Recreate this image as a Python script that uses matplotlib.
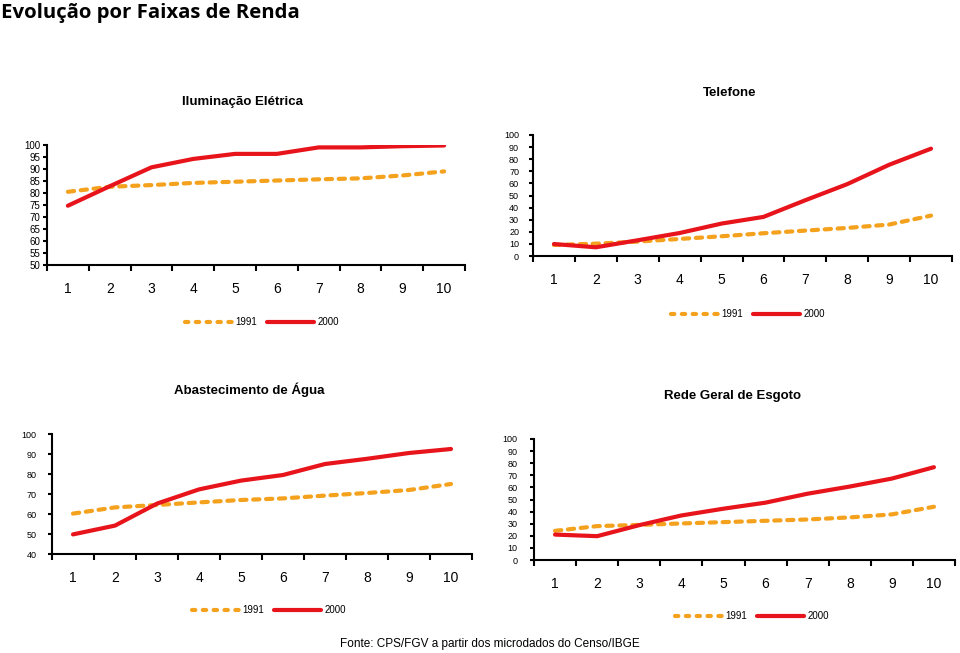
import matplotlib
matplotlib.use("Agg")
import matplotlib.pyplot as plt
from matplotlib.lines import Line2D
import numpy as np

categories = ["1", "2", "3", "4", "5", "6", "7", "8", "9", "10"]
series_labels = ["1991", "2000"]

ilum_1991 = [80.5, 82.6, 83.3, 84.2, 84.7, 85.2, 85.7, 86.1, 87.3, 89.0]
ilum_2000 = [74.7, 82.8, 90.7, 94.2, 96.3, 96.3, 99.0, 99.0, 99.5, 99.8]
tel_1991 = [9.1, 10.2, 11.9, 14.1, 16.3, 18.8, 21.0, 23.2, 26.0, 33.4]
tel_2000 = [9.9, 7.2, 13.0, 19.0, 26.8, 32.3, 46.1, 59.4, 75.4, 88.7]
agua_1991 = [60.2, 63.3, 64.5, 65.8, 67.0, 67.8, 69.2, 70.5, 72.0, 75.0]
agua_2000 = [49.8, 54.2, 65.2, 72.3, 76.7, 79.5, 85.0, 87.6, 90.5, 92.5]
esg_1991 = [24.1, 28.0, 29.0, 30.2, 31.3, 32.4, 33.5, 35.2, 37.7, 44.0]
esg_2000 = [21.0, 19.7, 28.8, 36.8, 42.4, 47.4, 54.8, 60.7, 67.3, 76.7]

titles = ["Iluminação Elétrica", "Telefone", "Abastecimento de Água", "Rede Geral de Esgoto"]
main_title = "Evolução por Faixas de Renda"
source = "Fonte: CPS/FGV a partir dos microdados do Censo/IBGE"

ORANGE = "#F4A11E"
RED = "#E8141B"
LW = 3.0
DASH_PLOT = (1.5, 1.6)
DASH_LEG = (0.8, 1.8)

plt.rcParams["font.family"] = ["Liberation Sans", "DejaVu Sans"]

W, H = 960, 653
fig = plt.figure(figsize=(W / 100, H / 100), dpi=100)


def fx(px):
    return px / W


def fy(py):
    return 1 - py / H


panels = [
    dict(box=(47, 465, 145, 265), ylim=(50, 100), ystep=5, s=(ilum_1991, ilum_2000),
         title=(242, 102), leg=(185, 322), yfs=7, ypad=2),
    dict(box=(533, 952, 135, 256), ylim=(0, 100), ystep=10, s=(tel_1991, tel_2000),
         title=(730, 93), leg=(671, 314), yfs=6.5, ypad=7),
    dict(box=(52, 472, 434, 554), ylim=(40, 100), ystep=10, s=(agua_1991, agua_2000),
         title=(249, 390), leg=(192, 610), yfs=6.5, ypad=8),
    dict(box=(534, 955, 439, 560), ylim=(0, 100), ystep=10, s=(esg_1991, esg_2000),
         title=(733, 396), leg=(675, 616), yfs=6.5, ypad=9),
]

x = np.arange(1, len(categories) + 1)

for i, p in enumerate(panels):
    l, r, t, b = p["box"]
    ax = fig.add_axes([fx(l), fy(b), fx(r - l), (b - t) / H])
    s91, s00 = p["s"]
    ax.plot(x, s91, color=ORANGE, lw=LW, dashes=DASH_PLOT, dash_capstyle="round",
            solid_capstyle="round", label=series_labels[0], zorder=3)
    ax.plot(x, s00, color=RED, lw=LW, solid_capstyle="round", label=series_labels[1], zorder=4)
    ax.set_xlim(0.5, len(categories) + 0.5)
    ax.set_ylim(*p["ylim"])
    ax.set_yticks(np.arange(p["ylim"][0], p["ylim"][1] + 0.1, p["ystep"]))
    ax.tick_params(axis="y", labelsize=p["yfs"], length=3, width=1.5, pad=p["ypad"], direction="out")
    ax.set_xticks(np.arange(0.5, len(categories) + 1, 1.0))
    ax.set_xticklabels([])
    ax.set_xticks(x, minor=True)
    ax.set_xticklabels(categories, minor=True)
    ax.tick_params(axis="x", which="major", length=4, width=1.5, direction="out")
    ax.tick_params(axis="x", which="minor", length=0, labelsize=10, pad=12)
    for sp in ["top", "right"]:
        ax.spines[sp].set_visible(False)
    for sp in ["left", "bottom"]:
        ax.spines[sp].set_linewidth(1.5)
    ax.patch.set_alpha(0)
    fig.text(fx(p["title"][0]), fy(p["title"][1]), titles[i], ha="center", va="center",
             fontsize=9.5, fontweight="bold")
    handles = [
        Line2D([], [], color=ORANGE, lw=LW, dashes=DASH_LEG, dash_capstyle="round"),
        Line2D([], [], color=RED, lw=LW, solid_capstyle="round"),
    ]
    fig.legend(handles, series_labels, loc="center left",
               bbox_to_anchor=(fx(p["leg"][0]), fy(p["leg"][1])), ncol=2, frameon=False,
               fontsize=7, handlelength=4.8, handletextpad=0.4, columnspacing=1.0,
               borderpad=0, borderaxespad=0)

fig.text(fx(1), fy(13), main_title, ha="left", va="center", fontsize=14.7,
         fontweight="bold", family=["Open Sans", "DejaVu Sans"])
fig.text(fx(490), fy(644), source, ha="center", va="center", fontsize=8.5)

fig.savefig("out.png", dpi=100)
